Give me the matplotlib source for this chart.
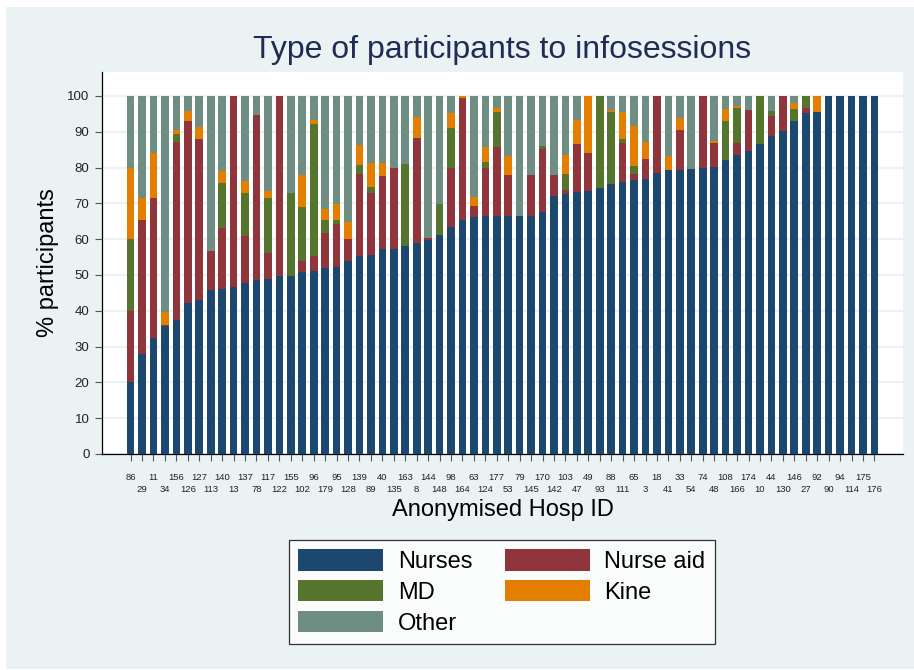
import numpy as np
import matplotlib.pyplot as plt
from matplotlib.patches import Rectangle, Patch

plt.rcParams['font.family'] = ['Liberation Sans', 'DejaVu Sans']

hosp_ids = ['86', '29', '11', '34', '156', '126', '127', '113', '140', '13',
            '137', '78', '117', '122', '155', '102', '96', '179', '95', '128',
            '139', '89', '40', '135', '163', '8', '144', '148', '98', '164',
            '63', '124', '177', '53', '79', '145', '170', '142', '103', '47',
            '49', '93', '88', '111', '65', '3', '18', '41', '33', '54',
            '74', '48', '108', '166', '174', '10', '44', '130', '146', '27',
            '92', '90', '94', '114', '175', '176']

nurses = [20.0, 27.8, 32.5, 35.8, 37.3, 42.3, 42.9, 45.8, 46.2, 46.7,
          47.8, 48.6, 49.0, 49.7, 49.7, 50.8, 51.2, 52.0, 52.3, 54.0,
          55.3, 55.6, 57.4, 57.4, 58.2, 58.8, 59.9, 61.2, 63.5, 65.3,
          66.3, 66.5, 66.6, 66.6, 66.6, 66.6, 67.6, 72.0, 72.7, 73.3,
          73.6, 74.4, 75.4, 76.1, 76.4, 76.8, 78.6, 79.2, 79.3, 79.6,
          80.0, 80.3, 82.1, 83.6, 84.7, 86.6, 88.8, 90.3, 93.1, 95.3,
          95.5, 100, 100, 100, 100, 100]
nurse_aid = [20.0, 37.6, 38.9, 0.3, 49.9, 50.8, 45.1, 11.0, 16.9, 53.3,
             13.1, 46.1, 7.2, 50.3, 0, 3.1, 4.1, 9.7, 11.9, 6.1,
             22.9, 17.4, 20.3, 22.6, 0, 29.4, 0.4, 0, 16.3, 34.0,
             3.0, 13.3, 19.2, 11.2, 0, 11.3, 17.6, 6.0, 1.0, 13.3,
             10.5, 0, 0, 10.9, 1.9, 5.7, 21.4, 0, 11.2, 0,
             20.0, 6.7, 0, 3.4, 11.4, 0, 5.6, 9.7, 0, 1.4,
             0, 0, 0, 0, 0, 0]
md = [20.0, 0, 0, 0, 2.3, 0, 0, 0, 12.6, 0,
      12.0, 0, 15.3, 0, 23.3, 15.0, 36.9, 3.8, 1.3, 0,
      2.5, 1.6, 0, 0, 22.8, 0, 0, 8.7, 11.2, 0,
      0, 1.7, 9.6, 0, 0, 0, 0.8, 0, 4.5, 0,
      0, 25.6, 20.2, 1.1, 2.2, 0, 0, 0, 0, 0,
      0, 0, 10.9, 9.7, 0, 13.4, 1.4, 0, 3.3, 3.3,
      0, 0, 0, 0, 0, 0]
kine = [20.0, 6.1, 12.8, 3.7, 1.0, 2.7, 3.4, 0, 3.4, 0,
        3.4, 0, 2.1, 0, 0, 8.9, 1.1, 3.0, 4.3, 4.8,
        5.7, 6.7, 3.7, 0, 0, 5.9, 0, 0, 4.3, 0.7,
        2.6, 4.2, 1.2, 5.4, 0, 0, 0, 0, 5.4, 6.8,
        15.9, 0, 0.4, 7.3, 11.2, 4.6, 0, 3.9, 3.3, 0,
        0, 0.5, 3.3, 0.5, 0, 0, 0, 0, 1.7, 0,
        4.5, 0, 0, 0, 0, 0]
other = [20.0, 28.5, 15.8, 60.2, 9.5, 4.2, 8.6, 43.2, 20.9, 0,
         23.7, 5.3, 26.4, 0, 27.0, 22.2, 6.7, 31.5, 30.2, 35.1,
         13.6, 18.7, 18.6, 20.0, 19.0, 5.9, 39.7, 30.1, 4.7, 0,
         28.1, 14.3, 3.4, 16.8, 33.4, 22.1, 14.0, 22.0, 16.4, 6.6,
         0, 0, 4.0, 4.6, 8.3, 12.9, 0, 16.9, 6.2, 20.4,
         0, 12.5, 3.7, 2.8, 3.9, 0, 4.2, 0, 1.9, 0,
         0, 0, 0, 0, 0, 0]

series = [('Nurses', nurses, '#1c4870'),
          ('Nurse aid', nurse_aid, '#90353b'),
          ('MD', md, '#55752f'),
          ('Kine', kine, '#e37e00'),
          ('Other', other, '#6e8e84')]

bg = '#eaf2f3'

fig = plt.figure(figsize=(9.14, 6.7), dpi=100, facecolor='white')
fig.patches.append(Rectangle((6 / 914, 1 / 670), 908 / 914, 662 / 670,
                             transform=fig.transFigure, facecolor=bg,
                             edgecolor='none', zorder=-10))

ax = fig.add_axes([102 / 914, 1 - 454 / 670, 801 / 914, 382 / 670])
ax.set_facecolor('white')

x = np.arange(len(hosp_ids))
bottom = np.zeros(len(hosp_ids))
for name, vals, color in series:
    vals = np.array(vals, dtype=float)
    ax.bar(x, vals, bottom=bottom, width=0.67, color=color, linewidth=0, zorder=3)
    bottom += vals

ax.set_xlim(-2.5, 67.5)
ax.set_ylim(0, 106.7)
ax.set_yticks(np.arange(0, 101, 10))
ax.yaxis.grid(True, color=bg, linewidth=1.6, zorder=0)
ax.set_axisbelow(True)

# alternate the hospital ids over two rows (major = top row, minor = bottom row)
ax.set_xticks(x[::2])
ax.set_xticklabels(hosp_ids[::2], fontsize=6.8, color='#222222')
ax.set_xticks(x[1::2], minor=True)
ax.set_xticklabels(hosp_ids[1::2], minor=True, fontsize=6.8, color='#222222')
ax.tick_params(axis='x', which='both', length=5, width=0.8, color='#555555')
ax.tick_params(axis='x', which='major', pad=9)
ax.tick_params(axis='x', which='minor', pad=17)
ax.tick_params(axis='y', length=5, width=0.8, color='#555555', labelsize=9.5,
               labelcolor='#222222', pad=4)

for side in ['top', 'right']:
    ax.spines[side].set_visible(False)
ax.spines['left'].set_linewidth(0.9)
ax.spines['bottom'].set_linewidth(0.9)

ax.set_ylabel('% participants', fontsize=17, labelpad=6)
ax.set_xlabel('Anonymised Hosp ID', fontsize=17, labelpad=4)
fig.text(502 / 914, 1 - 50 / 670, 'Type of participants to infosessions',
         ha='center', va='center', fontsize=23, color='#1f2d55')

handles = {name: Patch(facecolor=color, edgecolor='none') for name, vals, color in series}
order = ['Nurses', 'MD', 'Other', 'Nurse aid', 'Kine']
leg = fig.legend([handles[n] for n in order], order, ncol=2,
                 loc='center', bbox_to_anchor=(502 / 914, 1 - 592 / 670),
                 fontsize=17, frameon=True, fancybox=False,
                 handlelength=3.6, handleheight=1.0, handletextpad=0.6,
                 columnspacing=1.4, labelspacing=0.3, borderpad=0.4)
leg.get_frame().set_edgecolor('black')
leg.get_frame().set_linewidth(0.9)

fig.savefig('out.png', dpi=100, facecolor=fig.get_facecolor())
